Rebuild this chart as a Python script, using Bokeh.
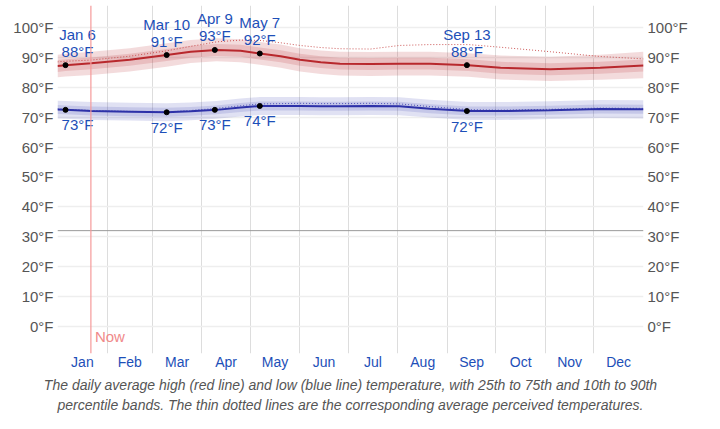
from bokeh.plotting import figure
from bokeh.models import FixedTicker, LinearAxis, Span, Title, Range1d, ColumnDataSource
from bokeh.core.properties import value
from bokeh.embed import file_html
from bokeh.resources import INLINE

FONT = "Liberation Sans"

# day of year (0 = Jan 1)
days = [0, 5, 21, 45, 68, 83, 99, 114, 126, 139, 151, 164, 176, 195, 213, 232, 256, 276, 307, 338, 365]
high = [87.2, 87.5, 88.1, 89.3, 90.9, 92.0, 92.6, 92.3, 91.4, 90.5, 89.3, 88.5, 88.0, 87.9, 88.0, 88.0, 87.5, 86.6, 86.1, 86.6, 87.4]
high_p25 = [85.2, 85.5, 86.1, 87.3, 88.9, 90.0, 90.6, 90.3, 89.4, 88.5, 87.3, 86.5, 86.0, 85.9, 86.0, 86.0, 85.5, 84.6, 84.1, 84.6, 85.4]
high_p75 = [89.2, 89.5, 90.1, 91.3, 92.9, 94.0, 94.6, 94.3, 93.4, 92.5, 91.3, 90.5, 90.0, 89.9, 90.0, 90.0, 89.5, 88.6, 88.1, 88.6, 89.4]
high_p10 = [83.4, 83.7, 84.2, 85.4, 87.0, 88.2, 88.8, 88.5, 87.6, 86.6, 85.4, 84.5, 84.0, 83.9, 84.0, 84.0, 83.6, 82.7, 82.2, 82.6, 83.1]
high_p90 = [91.0, 91.3, 92.0, 93.2, 94.8, 95.9, 96.5, 96.2, 95.3, 94.4, 93.2, 92.4, 92.0, 91.9, 92.0, 92.0, 91.5, 90.7, 90.3, 91.0, 92.0]
high_feel = [88.6, 88.8, 89.2, 90.5, 92.3, 93.8, 95.3, 95.9, 95.8, 95.0, 94.1, 93.4, 93.0, 92.9, 94.1, 94.4, 94.4, 93.5, 92.0, 90.4, 89.6]

low = [72.6, 72.5, 72.1, 71.9, 71.7, 72.0, 72.5, 73.3, 73.8, 73.8, 73.8, 73.7, 73.7, 73.8, 73.7, 72.9, 72.1, 72.1, 72.4, 72.8, 72.7]
low_p25 = [71.1, 71.0, 70.6, 70.4, 70.2, 70.5, 71.0, 71.8, 72.3, 72.3, 72.3, 72.2, 72.2, 72.3, 72.2, 71.4, 70.6, 70.6, 70.9, 71.3, 71.2]
low_p75 = [74.1, 74.0, 73.6, 73.4, 73.2, 73.5, 74.0, 74.8, 75.3, 75.3, 75.3, 75.2, 75.2, 75.3, 75.2, 74.4, 73.6, 73.6, 73.9, 74.3, 74.2]
low_p10 = [69.6, 69.5, 69.1, 68.9, 68.7, 69.0, 69.5, 70.3, 70.8, 70.8, 70.8, 70.7, 70.7, 70.8, 70.7, 69.9, 69.1, 69.1, 69.4, 69.8, 69.6]
low_p90 = [75.6, 75.5, 75.1, 74.9, 74.7, 75.0, 75.5, 76.3, 76.8, 76.8, 76.8, 76.7, 76.7, 76.8, 76.7, 75.9, 75.1, 75.1, 75.4, 75.8, 75.7]
low_feel = [72.8, 72.7, 72.3, 72.0, 71.8, 72.3, 73.0, 73.9, 74.5, 74.6, 74.7, 74.6, 74.6, 74.7, 74.5, 73.6, 72.6, 72.4, 72.7, 73.1, 73.0]

# annotated points
hi_pts_day = [5, 68, 98, 126, 255]
hi_pts_val = [87.5, 90.9, 92.6, 91.4, 87.5]
hi_pts_date = ["Jan 6", "Mar 10", "Apr 9", "May 7", "Sep 13"]
hi_pts_text = ["88°F", "91°F", "93°F", "92°F", "88°F"]
lo_pts_day = [5, 68, 98, 126, 255]
lo_pts_val = [72.5, 71.7, 72.5, 73.8, 72.1]
lo_pts_text = ["73°F", "72°F", "73°F", "74°F", "72°F"]

months = ["Jan", "Feb", "Mar", "Apr", "May", "Jun", "Jul", "Aug", "Sep", "Oct", "Nov", "Dec"]
month_starts = [0, 31, 59, 90, 120, 151, 181, 212, 243, 273, 304, 334, 365]
y_ticks = [0, 10, 20, 30, 40, 50, 60, 70, 80, 90, 100]
now_day = 20.8
freezing = 32

BLUE_TXT = "#1d4fb8"
GRAY_TXT = "#555555"

p = figure(width=720, height=429, output_backend="svg", toolbar_location=None,
           x_range=Range1d(0, 365), y_range=Range1d(-9.2, 107.5),
           min_border_left=57, min_border_right=77, min_border_top=5, min_border_bottom=76)
p.outline_line_color = None
p.background_fill_color = "white"

# bands
p.varea(x=days, y1=high_p10, y2=high_p90, fill_color="#b52a2e", fill_alpha=0.17)
p.varea(x=days, y1=high_p25, y2=high_p75, fill_color="#b52a2e", fill_alpha=0.17)
p.varea(x=days, y1=low_p10, y2=low_p90, fill_color="#2f36b0", fill_alpha=0.15)
p.varea(x=days, y1=low_p25, y2=low_p75, fill_color="#2f36b0", fill_alpha=0.15)

# perceived
p.line(days, high_feel, line_color="#c43c3c", line_alpha=0.85, line_width=1, line_dash="1 2")
p.line(days, low_feel, line_color="#3b3fb0", line_alpha=0.85, line_width=1, line_dash="1 2")

# mean lines
p.line(days, high, line_color="#b8282d", line_width=2)
p.line(days, low, line_color="#2d31a8", line_width=2)

# freezing line
p.add_layout(Span(location=freezing, dimension="width", line_color="#999999", line_width=1))
# now line
p.add_layout(Span(location=now_day, dimension="height", line_color="#f59a9a", line_width=1.2))
p.text(x=[now_day], y=[-3.5], text=["Now"], text_font=value(FONT), text_font_size="15px",
       text_color="#f08a8a", text_baseline="middle", text_align="left", x_offset=4)

# points
p.scatter(hi_pts_day, hi_pts_val, size=5, color="black")
p.scatter(lo_pts_day, lo_pts_val, size=5, color="black")

label_shift = [12, 0, 0, 0, 0]
hs = ColumnDataSource(dict(x=hi_pts_day, y=hi_pts_val, d=hi_pts_date, t=hi_pts_text, xo=label_shift))
p.text(x="x", y="y", text="t", source=hs, text_font=value(FONT), text_font_size="15px",
       text_color=BLUE_TXT, text_align="center", text_baseline="middle", y_offset=-14, x_offset="xo")
p.text(x="x", y="y", text="d", source=hs, text_font=value(FONT), text_font_size="15px",
       text_color=BLUE_TXT, text_align="center", text_baseline="middle", y_offset=-31, x_offset="xo")
ls = ColumnDataSource(dict(x=lo_pts_day, y=lo_pts_val, t=lo_pts_text, xo=label_shift))
p.text(x="x", y="y", text="t", source=ls, text_font=value(FONT), text_font_size="15px",
       text_color=BLUE_TXT, text_align="center", text_baseline="middle", y_offset=15, x_offset="xo")

# axes
mid = [(month_starts[i] + month_starts[i + 1]) / 2 for i in range(12)]
p.xaxis.ticker = FixedTicker(ticks=mid)
p.xaxis.major_label_overrides = {m: months[i] for i, m in enumerate(mid)}
p.xaxis.axis_line_color = None
p.xaxis.major_tick_line_color = None
p.xaxis.minor_tick_line_color = None
p.xaxis.major_label_text_color = BLUE_TXT
p.xaxis.major_label_text_font = FONT
p.xaxis.major_label_text_font_size = "14px"
p.xaxis.major_label_standoff = 0
p.xaxis.major_tick_out = 0
p.xaxis.major_tick_in = 0

p.xgrid.ticker = FixedTicker(ticks=month_starts[1:-1])
p.xgrid.grid_line_color = "#dddddd"
p.xgrid.grid_line_width = 1

ylabels = {t: f"{t}°F" for t in y_ticks}
p.yaxis.ticker = FixedTicker(ticks=y_ticks)
p.yaxis.major_label_overrides = ylabels
right = LinearAxis(ticker=FixedTicker(ticks=y_ticks), major_label_overrides=ylabels)
p.add_layout(right, "right")
for ax in p.yaxis:
    ax.axis_line_color = None
    ax.major_tick_line_color = None
    ax.minor_tick_line_color = None
    ax.major_tick_out = 0
    ax.major_tick_in = 0
    ax.major_label_text_color = GRAY_TXT
    ax.major_label_text_font = FONT
    ax.major_label_text_font_size = "15px"
    ax.major_label_standoff = 4
p.ygrid.grid_line_color = "#eeeeee"
p.ygrid.grid_line_width = 1.5

cap1 = "The daily average high (red line) and low (blue line) temperature, with 25th to 75th and 10th to 90th"
cap2 = "percentile bands. The thin dotted lines are the corresponding average perceived temperatures."
for c, so in [(cap1, 4), (cap2, 1)]:
    p.add_layout(Title(text=c, align="center", text_font=FONT, text_font_style="italic",
                       text_font_size="14px", text_color=GRAY_TXT, standoff=so,
                       offset=0), "below")

open("out.html", "w").write(file_html(p, INLINE))
